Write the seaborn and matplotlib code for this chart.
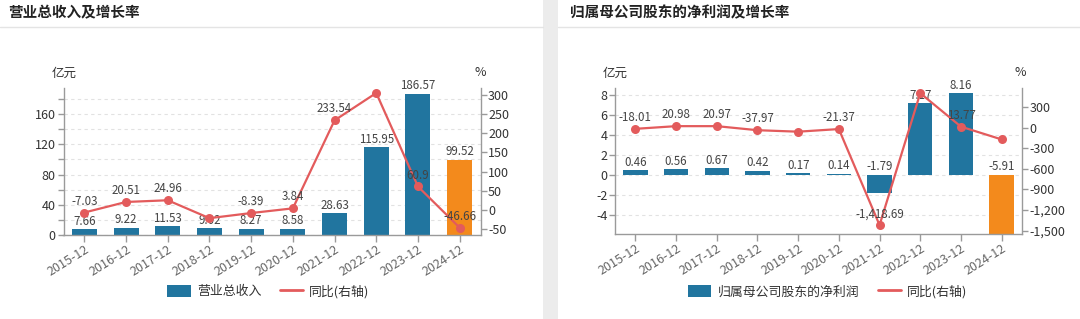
import numpy as np
import matplotlib
matplotlib.use("Agg")
import matplotlib.pyplot as plt
import seaborn as sns
from matplotlib.ticker import FuncFormatter, MultipleLocator
from matplotlib.patches import Rectangle, Patch
from matplotlib.lines import Line2D

# ---------------- data ----------------
periods = ["2015-12", "2016-12", "2017-12", "2018-12", "2019-12",
           "2020-12", "2021-12", "2022-12", "2023-12", "2024-12"]

revenue = [7.66, 9.22, 11.53, 9.02, 8.27, 8.58, 28.63, 115.95, 186.57, 99.52]
revenue_yoy = [-7.03, 20.51, 24.96, -21.77, -8.39, 3.84, 233.54, 304.99, 60.9, -46.66]

net_profit = [0.46, 0.56, 0.67, 0.42, 0.17, 0.14, -1.79, 7.17, 8.16, -5.91]
net_profit_yoy = [-18.01, 20.98, 20.97, -37.97, -59.52, -21.37, -1418.69, 500.56, 13.77, -172.43]

titles = ["营业总收入及增长率", "归属母公司股东的净利润及增长率"]
bar_names = ["营业总收入", "归属母公司股东的净利润"]
line_name = "同比(右轴)"
unit_left = "亿元"
unit_right = "%"

# labels that the original chart does not show (overlap hiding)
hidden_rev_yoy = {3, 7}
hidden_np_yoy = {4, 7, 9}

# ---------------- style ----------------
sns.set_theme(style="white")
plt.rcParams["font.family"] = ["Noto Sans CJK SC", "DejaVu Sans"]
plt.rcParams["axes.unicode_minus"] = False

BLUE = "#21759f"
ORANGE = "#f38a1c"
RED = "#e35b5c"
AXIS = "#9a9a9a"
GRID = "#e2e2e2"
TXT = "#333333"

W, H = 1080, 319
fig = plt.figure(figsize=(W / 100, H / 100), dpi=100)
fig.patch.set_facecolor("white")

# gray divider strip and title separators
fig.patches.append(Rectangle((543 / W, 0), 15 / W, 1, transform=fig.transFigure,
                             facecolor="#ececec", edgecolor="none", zorder=0))
for x0, x1 in [(0, 543 / W), (558 / W, 1)]:
    fig.lines.append(Line2D([x0, x1], [1 - 27 / H] * 2, transform=fig.transFigure,
                            color="#e4e4e4", linewidth=1))


def fmt_num(v):
    return format(v, ",")


def panel(rect, values, yoy, hidden, ylim_l, ylim_r, loc_l, lab_every, loc_r,
          title, title_x, unit_xs, legend_x, bar_name):
    ax = fig.add_axes(rect)
    n = len(values)
    colors = [BLUE] * (n - 1) + [ORANGE]
    sns.barplot(x=periods, y=values, hue=periods, palette=colors, ax=ax,
                width=0.6, saturation=1, legend=False, linewidth=0)
    ax.set_xlim(-0.5, n - 0.5)
    ax.set_ylim(*ylim_l)
    ax.set_xlabel("")
    ax.set_ylabel("")
    ax.set_axisbelow(True)
    ax.yaxis.set_major_locator(MultipleLocator(loc_l))
    ax.yaxis.set_major_formatter(FuncFormatter(
        lambda v, p: (f"{v:g}" if abs(round(v / lab_every) * lab_every - v) < 1e-6 else "")))
    ax.grid(axis="y", color=GRID, linestyle=(0, (3, 3)), linewidth=0.8)
    ax.grid(axis="x", visible=False)
    for s in ["top", "right"]:
        ax.spines[s].set_visible(False)
    for s in ["left", "bottom"]:
        ax.spines[s].set_color(AXIS)
        ax.spines[s].set_linewidth(1)
    ax.tick_params(axis="y", length=4, width=1, color=AXIS, labelsize=9,
                   labelcolor=TXT, pad=1.5, left=True)
    ax.tick_params(axis="x", length=5, width=1, color=AXIS, labelsize=9,
                   labelcolor="#666666", pad=1, bottom=True)
    ax.set_xticks(range(n))
    ax.set_xticklabels(periods, rotation=32, ha="right", rotation_mode="anchor")

    for i, v in enumerate(values):
        base = max(v, 0)
        ax.annotate(fmt_num(v), (i, base), xytext=(0, 1.2), textcoords="offset points",
                    ha="center", va="bottom", fontsize=8.3, color="#444444")

    ax2 = ax.twinx()
    sns.lineplot(x=np.arange(n), y=yoy, ax=ax2, color=RED, linewidth=1.6,
                 marker="o", markersize=6.5, markeredgewidth=0)
    ax2.set_ylim(*ylim_r)
    ax2.set_xlim(-0.5, n - 0.5)
    ax2.yaxis.set_major_locator(MultipleLocator(loc_r))
    ax2.yaxis.set_major_formatter(FuncFormatter(lambda v, p: f"{int(round(v)):,}"))
    for s in ["top", "left", "bottom"]:
        ax2.spines[s].set_visible(False)
    ax2.spines["right"].set_color(AXIS)
    ax2.spines["right"].set_linewidth(1)
    ax2.tick_params(axis="y", length=4, width=1, color=AXIS, labelsize=9,
                    labelcolor=TXT, pad=1.5, right=True)
    ax2.set_ylabel("")
    ax2.grid(False)
    for i, v in enumerate(yoy):
        if i in hidden:
            continue
        ax2.annotate(fmt_num(v), (i, v), xytext=(0, 3.5), textcoords="offset points",
                     ha="center", va="bottom", fontsize=8.3, color="#444444")

    fig.text(title_x / W, 1 - 12.5 / H, title, fontsize=10.5, fontweight="bold",
             color="#222222", ha="left", va="center")
    fig.text(unit_xs[0] / W, 1 - 73 / H, unit_left, fontsize=9, color=TXT,
             ha="center", va="center")
    fig.text(unit_xs[1] / W, 1 - 73 / H, unit_right, fontsize=9, color=TXT,
             ha="center", va="center")

    handles = [Patch(facecolor=BLUE, edgecolor="none", label=bar_name),
               Line2D([0], [0], color=RED, linewidth=2, label=line_name)]
    fig.legend(handles=handles, loc="center", bbox_to_anchor=(legend_x / W, 1 - 291.5 / H),
               ncol=2, frameon=False, fontsize=9.3, labelcolor=TXT, handlelength=1.8,
               handleheight=1.0, handletextpad=0.5, columnspacing=1.4)
    return ax, ax2


panel([63.5 / W, 1 - 235 / H, 417 / W, 147 / H], revenue, revenue_yoy, hidden_rev_yoy,
      (0, 194.4), (-65.7, 318), 20, 40, 50,
      titles[0], 8.6, (64, 480), 268.5, bar_names[0])

panel([615 / W, 1 - 234 / H, 407 / W, 146 / H], net_profit, net_profit_yoy, hidden_np_yoy,
      (-5.91, 8.7), (-1548, 576), 2, 2, 300,
      titles[1], 570, (615, 1020), 828, bar_names[1])

fig.savefig("out.png", dpi=100, facecolor="white")
